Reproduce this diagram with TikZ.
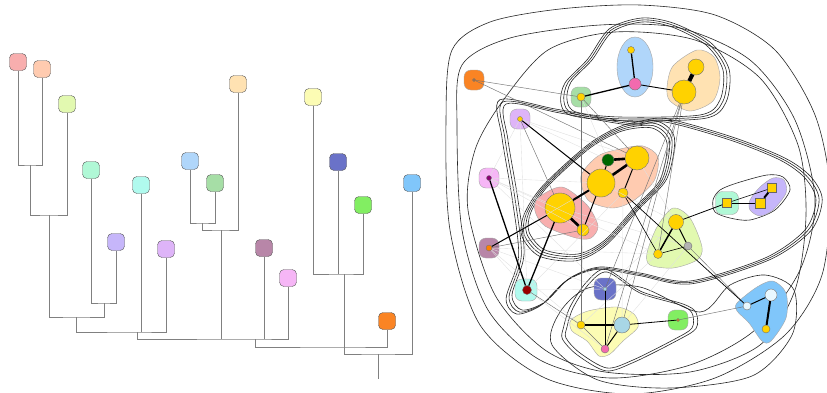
\documentclass[tikz,border=0pt]{standalone}
\usepackage{color}
\usepackage{tikz}
\usetikzlibrary{positioning}

\definecolor{cSalmon}{HTML}{F8AEAE}
\definecolor{cPeach}{HTML}{FFCBB0}
\definecolor{cPear}{HTML}{E2F9B0}
\definecolor{cMint}{HTML}{B0F8D6}
\definecolor{cAqua}{HTML}{B0FAEE}
\definecolor{cLavender}{HTML}{C6B6FA}
\definecolor{cLilac}{HTML}{DEB4F8}
\definecolor{cSky}{HTML}{B0D6FA}
\definecolor{cGreen}{HTML}{A6DEA6}
\definecolor{cApricot}{HTML}{FFE2B2}
\definecolor{cMauve}{HTML}{B886A8}
\definecolor{cOrchid}{HTML}{F6B6F6}
\definecolor{cCream}{HTML}{FCFCB4}
\definecolor{cIndigo}{HTML}{6A72C8}
\definecolor{cLime}{HTML}{82EE62}
\definecolor{cBlue}{HTML}{80C6FA}
\definecolor{cOrange}{HTML}{FA8424}
\definecolor{cGold}{HTML}{FFD200}
\definecolor{cPink}{HTML}{F26AAE}
\definecolor{cIce}{HTML}{A8D6E6}
\definecolor{cSnow}{HTML}{E8F8FF}

\begin{document}
\begin{tikzpicture}[x=1pt, y=-1pt,
  leaf/.style = {shape=rectangle, rounded corners=4.5pt, draw=black!65,
    minimum size=17pt, inner sep=0pt},
  link/.style = {draw=black!50, line width=0.8pt},
  blob/.style = {shape=rectangle, rounded corners=7pt, draw=black!35,
    line width=0.4pt, minimum size=20pt, inner sep=0pt},
  hull/.style = {draw=black!35, line width=0.4pt},
  vtx/.style = {shape=circle, draw=black!55, line width=0.4pt,
    inner sep=0pt, fill=cGold},
  sq/.style = {shape=rectangle, draw=black!60, line width=0.4pt,
    inner sep=0pt, fill=cGold, minimum size=9pt},
  tie/.style = {draw=black, line width=1pt},
  weak/.style = {draw=black!55, line width=0.45pt},
  faint/.style = {draw=black!12, line width=0.35pt},
  contour/.style = {draw=black!85, line width=0.6pt}]

  \clip (0,0) rectangle (827,392);
  \fill[white] (0,0) rectangle (827,392);

  % dendrogram
  \node[leaf, fill=cSalmon]   (l1)  at (18,62)   {};
  \node[leaf, fill=cPeach]    (l2)  at (42,69)   {};
  \node[leaf, fill=cPear]     (l3)  at (67,104)  {};
  \node[leaf, fill=cMint]     (l4)  at (91,170)  {};
  \node[leaf, fill=cAqua]     (l5)  at (141,185) {};
  \node[leaf, fill=cLavender] (l6)  at (116,242) {};
  \node[leaf, fill=cLilac]    (l7)  at (166,249) {};
  \node[leaf, fill=cSky]      (l8)  at (190,161) {};
  \node[leaf, fill=cGreen]    (l9)  at (215,183) {};
  \node[leaf, fill=cApricot]  (l10) at (238,84)  {};
  \node[leaf, fill=cMauve]    (l11) at (264,248) {};
  \node[leaf, fill=cOrchid]   (l12) at (288,278) {};
  \node[leaf, fill=cCream]    (l13) at (313,97)  {};
  \node[leaf, fill=cIndigo]   (l14) at (338,162) {};
  \node[leaf, fill=cLime]     (l15) at (363,205) {};
  \node[leaf, fill=cBlue]     (l16) at (412,183) {};
  \node[leaf, fill=cOrange]   (l17) at (387,321) {};

  \coordinate (m1)  at (30,165);
  \coordinate (m2)  at (49,215);
  \coordinate (m3)  at (104,303);
  \coordinate (m4)  at (76,317);
  \coordinate (m5)  at (137,332);
  \coordinate (m6)  at (202,223);
  \coordinate (m7)  at (221,230);
  \coordinate (m8)  at (255,339);
  \coordinate (m9)  at (344,274);
  \coordinate (m10) at (344,347);
  \coordinate (m11) at (378,354);
  \coordinate (root) at (378,379);

  \draw[link] (l1) |- (m1) -| (l2);
  \draw[link] (m1) |- (m2) -| (l3);
  \draw[link] (l4) |- (m3) -| (l6);
  \draw[link] (m2) |- (m4) -| (m3);
  \draw[link] (m4) |- (m5) -| (l7);
  \draw[link] (l5) -- (l5 |- m5);
  \draw[link] (l8) |- (m6) -| (l9);
  \draw[link] (m6) |- (m7) -| (l10);
  \draw[link] (m5) |- (m8) -| (l12);
  \draw[link] (m7) -- (m7 |- m8);
  \draw[link] (l11) -- (l11 |- m8);
  \draw[link] (l13) |- (m9) -| (l15);
  \draw[link] (l14) -- (l14 |- m9);
  \draw[link] (m8) |- (m10) -| (l17);
  \draw[link] (m9) |- (m11) -| (l16);
  \draw[link] (m11) -- (root);

  % contours
  \draw[contour] plot[smooth cycle] coordinates {(446,120) (452,50) (490,22)
    (560,9) (640,5) (715,15) (775,50) (815,115) (830,190) (822,275) (785,335)
    (715,378) (630,394) (545,378) (480,325) (450,230)};
  \draw[contour] plot[smooth cycle] coordinates {(457,125) (462,65) (510,38)
    (600,25) (680,28) (750,60) (795,120) (815,200) (800,270) (755,330)
    (690,365) (610,378) (540,360) (488,310) (462,230)};
  \draw[contour] plot[smooth cycle] coordinates {(468,210) (475,150) (502,102)
    (548,50) (615,32) (695,40) (760,78) (798,145) (806,215) (795,290)
    (760,345) (690,372) (605,372) (545,350) (495,295)};
  \foreach \s in {1,1.02,1.04}
    \draw[contour, scale around={\s:(660,210)}] plot[smooth cycle] coordinates {
      (506,104) (560,113) (630,125) (665,122) (730,140) (780,160) (805,178)
      (816,200) (805,230) (765,258) (690,281) (640,273) (600,267) (570,278)
      (545,302) (522,310) (512,295) (524,255) (518,200) (508,140)};
  \foreach \s in {1,1.04,1.08}
    \draw[contour, scale around={\s:(645,72)}] plot[smooth cycle] coordinates {
      (567,100) (571,82) (592,60) (612,32) (642,22) (672,27) (706,45)
      (723,70) (720,100) (700,115) (620,117) (576,112)};
  \foreach \s in {1,1.035,1.07,1.105}
    \draw[contour, scale around={\s:(596,190)}] plot[smooth cycle] coordinates {
      (531,212) (548,186) (590,148) (622,131) (652,128) (667,143) (660,180)
      (635,207) (605,240) (578,254) (545,250) (529,232)};
  \draw[contour] plot[smooth cycle] coordinates {(713,200) (720,190) (737,183)
    (767,175) (783,177) (790,190) (775,210) (750,220) (730,218) (715,212)};
  \foreach \s in {1,1.06}
    \draw[contour, scale around={\s:(625,320)}] plot[smooth cycle] coordinates {
      (567,327) (573,308) (588,285) (607,272) (640,293) (680,305) (692,313)
      (692,328) (673,340) (633,360) (607,368) (580,353) (566,338)};
  \draw[contour] plot[smooth cycle] coordinates {(552,345) (560,312) (588,288)
    (640,287) (700,312) (730,285) (765,275) (794,290) (792,335) (752,376)
    (670,388) (598,380)};

  % hulls
  \node[blob, fill=cOrange] (hOrange) at (474,80) {};
  \node[blob, fill=cGreen] (hGreen) at (581,97) {};
  \node[blob, fill=cLilac] (hLilac) at (520,119) {};
  \node[blob, fill=cOrchid] (hOrchid) at (489,178) {};
  \node[blob, fill=cMauve] (hMauve) at (489,248) {};
  \node[blob, fill=cAqua, minimum size=22pt] (hAqua) at (526,290) {};
  \node[blob, fill=cIndigo, minimum size=22pt] (hIndigo) at (605,289) {};
  \node[blob, fill=cLime] (hLime) at (678,320) {};
  \node[blob, fill=cMint, minimum size=23pt] (hMint) at (727,203) {};
  \draw[hull, fill=cSky] (635,67) ellipse [x radius=18, y radius=30];
  \draw[hull, fill=cApricot] plot[smooth cycle] coordinates {(667,87) (673,66)
    (697,50) (714,57) (720,78) (713,101) (690,111) (670,101)};
  \draw[hull, fill=cSalmon] plot[smooth cycle] coordinates {(538,198) (562,187)
    (587,205) (598,226) (591,238) (576,238) (545,226) (535,211)};
  \draw[hull, fill=cPeach] plot[smooth cycle] coordinates {(581,176) (598,156)
    (620,149) (643,146) (658,157) (654,181) (633,201) (612,208) (588,200)};
  \draw[hull, fill=cPear] plot[smooth cycle] coordinates {(647,253) (657,227)
    (673,208) (690,218) (702,247) (697,260) (673,268) (650,265)};
  \draw[hull, fill=cLavender] plot[smooth cycle] coordinates {(750,200)
    (760,187) (773,178) (784,180) (786,193) (773,210) (760,216) (750,210)};
  \draw[hull, fill=cCream] plot[smooth cycle] coordinates {(571,320) (588,311)
    (617,307) (634,314) (638,327) (623,341) (610,354) (599,356) (587,341)
    (572,331)};
  \draw[hull, fill=cBlue] plot[smooth cycle] coordinates {(737,303) (757,287)
    (773,281) (786,293) (786,318) (771,341) (762,341) (749,323) (737,311)};

  % vertices
  \node[vtx, minimum size=3pt, fill=cOrange!80!black] (oA) at (474,80) {};
  \node[vtx, minimum size=8pt] (gA) at (581,97) {};
  \node[vtx, minimum size=7pt] (bA) at (631,50) {};
  \node[vtx, minimum size=12pt, fill=cPink] (bB) at (635,84) {};
  \node[vtx, minimum size=16pt] (yA) at (696,67) {};
  \node[vtx, minimum size=24pt] (yB) at (684,92) {};
  \node[vtx, minimum size=5pt] (pA) at (520,119) {};
  \node[vtx, minimum size=5pt, fill=violet!80!purple] (qA) at (489,178) {};
  \node[vtx, minimum size=6pt, fill=orange] (mA) at (489,248) {};
  \node[vtx, minimum size=9pt, fill=red!60!black] (cA) at (527,290) {};
  \node[vtx, minimum size=30pt] (sA) at (560,208) {};
  \node[vtx, minimum size=12pt] (sB) at (583,230) {};
  \node[vtx, minimum size=12pt, fill=green!40!black] (eA) at (608,160) {};
  \node[vtx, minimum size=24pt] (eB) at (637,158) {};
  \node[vtx, minimum size=28pt] (eC) at (601,183) {};
  \node[vtx, minimum size=10pt] (eD) at (623,193) {};
  \node[vtx, minimum size=15pt] (wA) at (676,222) {};
  \node[vtx, minimum size=9pt] (wB) at (658,254) {};
  \node[vtx, minimum size=8pt, fill=black!30] (wC) at (688,246) {};
  \node[sq] (tA) at (727,203) {};
  \node[sq, minimum size=10pt] (tB) at (760,203) {};
  \node[sq] (tC) at (772,188) {};
  \node[vtx, minimum size=4pt, fill=cIce] (iA) at (605,289) {};
  \node[vtx, minimum size=8pt] (uA) at (581,325) {};
  \node[vtx, minimum size=16pt, fill=cIce] (uB) at (622,325) {};
  \node[vtx, minimum size=8pt, fill=cPink] (uC) at (605,349) {};
  \node[vtx, minimum size=3pt, fill=orange] (gB) at (678,320) {};
  \node[vtx, minimum size=12pt, fill=cSnow] (zA) at (771,295) {};
  \node[vtx, minimum size=8pt, fill=cSnow] (zB) at (747,306) {};
  \node[vtx, minimum size=8pt] (zC) at (766,329) {};

  % edges
  \foreach \a/\b in {qA/sA, qA/eC, qA/sB, mA/cA, mA/eC, pA/cA, pA/eA, qA/pA,
    mA/uA, cA/iA, cA/eD, pA/eB, qA/wB, mA/iA, cA/uC, sB/uA, eD/uB, wB/uA,
    wC/uB, sA/wC, eC/wA, eB/wA, iA/wA, gA/eA, mA/wB, qA/iA}
    \draw[faint] (\a) -- (\b);
  \foreach \a/\b in {oA/gA, oA/eB, pA/sA, mA/sB, cA/uA, gA/uA, wC/zB,
    gB/zB, yB/iA, yB/uC, yB/uB, yB/wB, gA/eB, uA/uC}
    \draw[weak] (\a) -- (\b);
  \draw[tie, line width=1.3pt] (gA) -- (bB);
  \draw[tie, line width=1.3pt] (bA) -- (bB);
  \draw[tie, line width=0.9pt] (bB) -- (yB);
  \draw[tie, line width=4pt] (yA) -- (yB);
  \draw[tie] (pA) -- (eC);
  \draw[tie, line width=1.3pt] (qA) -- (cA);
  \draw[tie] (mA) -- (sA);
  \draw[tie, line width=1.3pt] (cA) -- (sA);
  \draw[tie, line width=2pt] (sA) -- (eC);
  \draw[tie, line width=2.6pt] (sA) -- (sB);
  \draw[tie] (sB) -- (eC);
  \draw[tie] (eC) -- (eA);
  \draw[tie, line width=2.6pt] (eC) -- (eB);
  \draw[tie, line width=2.6pt] (eA) -- (eB);
  \draw[tie] (eB) -- (eD);
  \draw[tie, line width=0.6pt] (eD) -- (wB);
  \draw[tie, line width=0.7pt] (eD) -- (zB);
  \draw[tie, line width=1.5pt] (wA) -- (wB);
  \draw[tie] (wA) -- (wC);
  \draw[tie, line width=0.6pt] (wB) -- (wC);
  \draw[tie, line width=0.8pt] (wA) -- (tA);
  \draw[tie] (tA) -- (tB);
  \draw[tie, line width=0.6pt] (tA) -- (tC);
  \draw[tie, line width=2pt] (tB) -- (tC);
  \draw[tie] (zA) -- (zB);
  \draw[tie, line width=2pt] (zA) -- (zC);
  \draw[tie, line width=2pt] (uA) -- (uB);
  \draw[tie] (iA) -- (uC);
  \draw[tie] (uB) -- (uC);
  \draw[tie, line width=0.8pt] (uB) -- (gB);
\end{tikzpicture}
\end{document}
